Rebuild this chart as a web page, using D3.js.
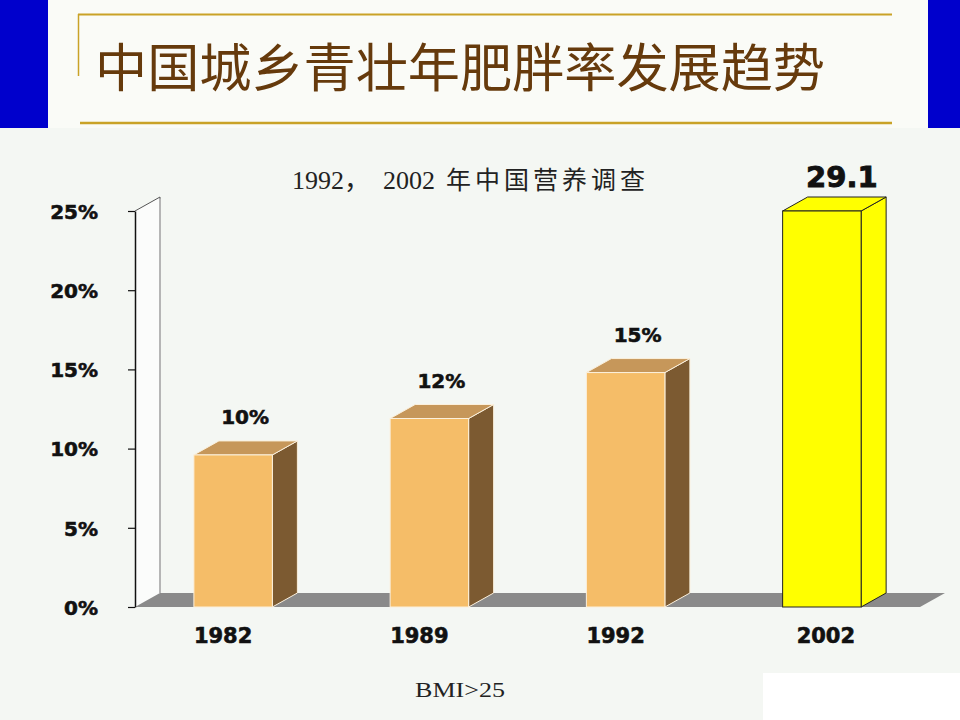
<!DOCTYPE html>
<html>
<head>
<meta charset="utf-8">
<script src="https://cdn.jsdelivr.net/npm/d3@7"></script>
<style>
    html, body { margin: 0; padding: 0; background: #f4f7f3; }
    svg { display: block; }
</style>
</head>
<body>
<script>
    // Chart data
    var years = ["1982", "1989", "1992", "2002"];
    var rates = [9.6, 11.9, 14.8, 29.1];
    var rateLabels = ["10%", "12%", "15%", "29.1"];
    var yTicks = [0, 5, 10, 15, 20, 25];

    var titleText = "中国城乡青壮年肥胖率发展趋势";
    var subtitleParts = ["1992，", "2002", "年中国营养调查"];
    var noteText = "BMI>25";

    var width = 960;
    var height = 720;

    // 3D depth offset
    var dx = 25;
    var dy = -14;

    var svg = d3.select("body")
        .append("svg")
        .attr("width", width)
        .attr("height", height);

    // Slide background
    svg.append("rect")
        .attr("width", width)
        .attr("height", height)
        .attr("fill", "#f4f7f3");

    svg.append("rect")
        .attr("x", 48)
        .attr("width", 880)
        .attr("height", 128)
        .attr("fill", "#fafbf7");

    // Blue side blocks
    svg.append("rect")
        .attr("x", 0).attr("y", 0)
        .attr("width", 48).attr("height", 128)
        .attr("fill", "#0000cc");

    svg.append("rect")
        .attr("x", 928).attr("y", 0)
        .attr("width", 32).attr("height", 128)
        .attr("fill", "#0000cc");

    // Gold frame lines
    var gold = "#c9a227";
    svg.append("line")
        .attr("x1", 78).attr("x2", 892)
        .attr("y1", 14.5).attr("y2", 14.5)
        .attr("stroke", gold).attr("stroke-width", 2);

    svg.append("line")
        .attr("x1", 78.5).attr("x2", 78.5)
        .attr("y1", 14).attr("y2", 76)
        .attr("stroke", gold).attr("stroke-width", 1.5);

    svg.append("line")
        .attr("x1", 80).attr("x2", 892)
        .attr("y1", 123).attr("y2", 123)
        .attr("stroke", gold).attr("stroke-width", 2.5);

    // Slide title
    svg.append("text")
        .attr("x", 95)
        .attr("y", 87)
        .attr("textLength", 730)
        .attr("lengthAdjust", "spacingAndGlyphs")
        .style("font-family", "'Noto Sans CJK SC', sans-serif")
        .style("font-size", "52px")
        .style("fill", "#663a0c")
        .text(titleText);

    // White patch bottom right
    svg.append("rect")
        .attr("x", 763).attr("y", 673)
        .attr("width", 197).attr("height", 47)
        .attr("fill", "#ffffff");

    // Scales
    var x = d3.scaleBand()
        .domain(years)
        .range([135, 920]);

    var y = d3.scaleLinear()
        .domain([0, 25])
        .range([607, 211])
        .clamp(true);

    var barW = x.bandwidth() * 0.4;
    function barLeft(d) {
        return x(d) + (x.bandwidth() - barW) / 2;
    }

    var x0 = x.range()[0];
    var x1 = x.range()[1];
    var yBase = y(0);
    var yTop = y(25);

    // Back wall
    svg.append("polygon")
        .attr("points", [
            [x0, yTop], [x0 + dx, yTop + dy], [x0 + dx, yBase + dy], [x0, yBase]
        ].join(" "))
        .attr("fill", "#fbfcfb");

    svg.append("polyline")
        .attr("points", [[x0, yTop], [x0 + dx, yTop + dy], [x0 + dx, yBase + dy]].join(" "))
        .attr("fill", "none")
        .attr("stroke", "#555")
        .attr("stroke-width", 1);

    svg.append("line")
        .attr("x1", x0 + dx).attr("x2", x0 + dx)
        .attr("y1", yTop + dy + 2).attr("y2", yBase + dy)
        .attr("stroke", "#bbb")
        .attr("stroke-width", 1.5);

    // Floor
    svg.append("polygon")
        .attr("points", [
            [x0, yBase], [x0 + dx, yBase + dy], [x1 + dx, yBase + dy], [x1, yBase]
        ].join(" "))
        .attr("fill", "#8a8a8a");

    // Y axis
    var yAxis = d3.axisLeft(y)
        .tickValues(yTicks)
        .tickFormat(function (d) { return d + "%"; })
        .tickSize(7)
        .tickSizeOuter(0)
        .tickPadding(30);

    var axisG = svg.append("g")
        .attr("transform", "translate(" + x0 + ",0)")
        .call(yAxis);

    axisG.select(".domain")
        .attr("stroke", "#111")
        .attr("stroke-width", 1.5);

    axisG.selectAll(".tick line")
        .attr("stroke", "#111")
        .attr("stroke-width", 1.2);

    axisG.selectAll(".tick text")
        .attr("fill", "#111")
        .attr("stroke", "#111")
        .attr("stroke-width", 0.6)
        .attr("dy", "0.36em")
        .style("font-family", "'DejaVu Sans', sans-serif")
        .style("font-weight", "bold")
        .style("font-size", "20px");

    // Bars
    var data = years.map(function (yr, i) {
        return { year: yr, rate: rates[i], label: rateLabels[i], hi: i === years.length - 1 };
    });

    var bars = svg.selectAll(".bar")
        .data(data)
        .enter()
        .append("g")
        .attr("class", "bar");

    // Side face
    bars.append("polygon")
        .attr("points", function (d) {
            var l = barLeft(d.year) + barW;
            var t = y(d.rate);
            return [[l, t], [l + dx, t + dy], [l + dx, yBase + dy], [l, yBase]].join(" ");
        })
        .attr("fill", function (d) { return d.hi ? "#ffff00" : "#7c5a31"; })
        .attr("stroke", function (d) { return d.hi ? "#222" : "#fbf0dc"; })
        .attr("stroke-width", 1);

    // Top face
    bars.append("polygon")
        .attr("points", function (d) {
            var l = barLeft(d.year);
            var t = y(d.rate);
            return [[l, t], [l + dx, t + dy], [l + barW + dx, t + dy], [l + barW, t]].join(" ");
        })
        .attr("fill", function (d) { return d.hi ? "#ffff00" : "#c6975a"; })
        .attr("stroke", function (d) { return d.hi ? "#222" : "#fbf0dc"; })
        .attr("stroke-width", 1);

    // Front face
    bars.append("rect")
        .attr("x", function (d) { return barLeft(d.year); })
        .attr("y", function (d) { return y(d.rate); })
        .attr("width", barW)
        .attr("height", function (d) { return yBase - y(d.rate); })
        .attr("fill", function (d) { return d.hi ? "#ffff00" : "#f5bd68"; })
        .attr("stroke", function (d) { return d.hi ? "#222" : "#fbf0dc"; })
        .attr("stroke-width", 1);

    // Value labels
    bars.append("text")
        .attr("text-anchor", "middle")
        .attr("x", function (d) { return barLeft(d.year) + barW / 2 + (d.hi ? 20 : 12); })
        .attr("y", function (d) { return y(d.rate) - (d.hi ? 24 : 31); })
        .attr("stroke", "#111")
        .attr("stroke-width", function (d) { return d.hi ? 0.9 : 0.6; })
        .style("font-family", "'DejaVu Sans', sans-serif")
        .style("font-weight", "bold")
        .style("font-size", function (d) { return d.hi ? "29px" : "20px"; })
        .style("fill", "#111")
        .text(function (d) { return d.label; });

    // Category labels
    svg.selectAll(".year")
        .data(years)
        .enter()
        .append("text")
        .attr("class", "year")
        .attr("text-anchor", "middle")
        .attr("x", function (d, i) { return x(d) + x.bandwidth() / 2 + (i === years.length - 1 ? 4 : -10); })
        .attr("y", 643)
        .attr("stroke", "#111")
        .attr("stroke-width", 0.6)
        .style("font-family", "'DejaVu Sans', sans-serif")
        .style("font-weight", "bold")
        .style("font-size", "21px")
        .style("fill", "#111")
        .text(function (d) { return d; });

    // Subtitle in three runs
    var sub = svg.append("text")
        .attr("y", 189)
        .style("font-family", "'Liberation Serif', 'Noto Sans CJK SC', serif")
        .style("font-size", "26px")
        .style("fill", "#222");

    sub.append("tspan").attr("x", 292).text(subtitleParts[0]);
    sub.append("tspan").attr("x", 383).text(subtitleParts[1]);
    sub.append("tspan").attr("x", 446)
        .style("letter-spacing", "4px")
        .style("font-size", "25px")
        .text(subtitleParts[2]);

    // Note
    svg.append("text")
        .attr("x", 415)
        .attr("y", 697)
        .attr("textLength", 90)
        .attr("lengthAdjust", "spacingAndGlyphs")
        .style("font-family", "'Liberation Serif', serif")
        .style("font-size", "20px")
        .style("fill", "#222")
        .text(noteText);
</script>
</body>
</html>
